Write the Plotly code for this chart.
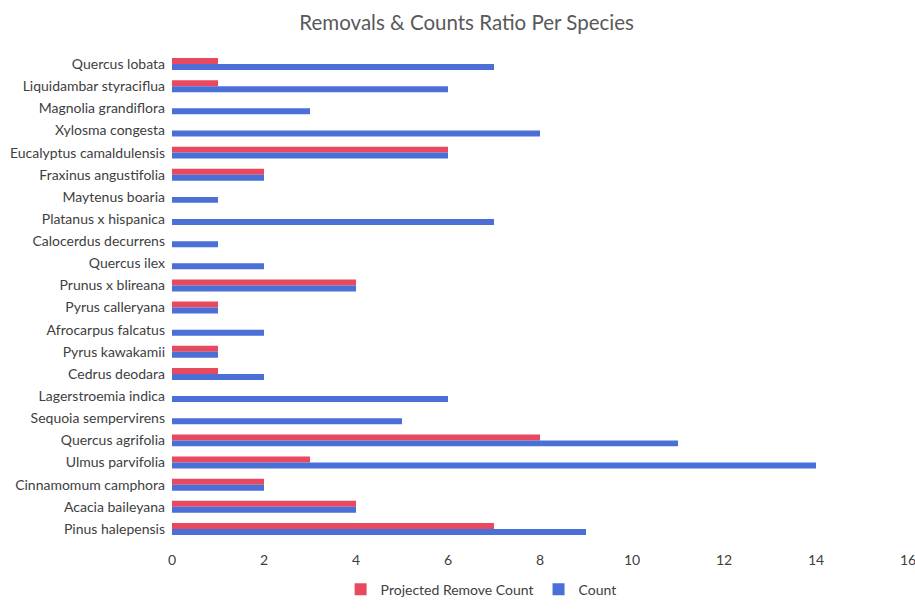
import plotly.graph_objects as go

# Species listed top to bottom as they appear on the chart
species = [
    "Quercus lobata", "Liquidambar styraciflua", "Magnolia grandiflora",
    "Xylosma congesta", "Eucalyptus camaldulensis", "Fraxinus angustifolia",
    "Maytenus boaria", "Platanus x hispanica", "Calocerdus decurrens",
    "Quercus ilex", "Prunus x blireana", "Pyrus calleryana",
    "Afrocarpus falcatus", "Pyrus kawakamii", "Cedrus deodara",
    "Lagerstroemia indica", "Sequoia sempervirens", "Quercus agrifolia",
    "Ulmus parvifolia", "Cinnamomum camphora", "Acacia baileyana",
    "Pinus halepensis",
]
remove_count = [1, 1, 0, 0, 6, 2, 0, 0, 0, 0, 4, 1, 0, 1, 1, 0, 0, 8, 3, 2, 4, 7]
count = [7, 6, 3, 8, 6, 2, 1, 7, 1, 2, 4, 1, 2, 1, 2, 6, 5, 11, 14, 2, 4, 9]
x_ticks = [0, 2, 4, 6, 8, 10, 12, 14, 16]

RED = "#E9495F"
BLUE = "#4A6FD7"
FONT = "Lato, 'Open Sans', sans-serif"

fig = go.Figure()
fig.add_trace(go.Bar(
    y=species, x=remove_count, orientation="h",
    name="Projected Remove Count", marker=dict(color=RED, line=dict(width=0)),
))
fig.add_trace(go.Bar(
    y=species, x=count, orientation="h",
    name="Count", marker=dict(color=BLUE, line=dict(width=0)),
))

fig.update_layout(
    width=915, height=613,
    margin=dict(l=172, r=7, t=53, b=69),
    paper_bgcolor="white", plot_bgcolor="white",
    barmode="group", bargap=0.46, bargroupgap=0.0,
    font=dict(family=FONT, size=14, color="#404040"),
    title=dict(
        text="Removals & Counts Ratio Per Species",
        x=0.51, xanchor="center", y=0.962, yanchor="middle",
        font=dict(family=FONT, size=20.5, color="#595959"),
    ),
    xaxis=dict(
        range=[0, 16], tickvals=x_ticks, showgrid=False, zeroline=False,
        showline=False, ticks="", ticklabelstandoff=10,
        ticklabeloverflow="allow", automargin=False,
        tickfont=dict(size=14, color="#404040"),
    ),
    yaxis=dict(
        autorange="reversed", showgrid=False, zeroline=False, showline=False,
        ticks="", ticklabelstandoff=6, automargin=False,
        tickfont=dict(size=14, color="#404040"),
    ),
    legend=dict(
        orientation="h", x=0.42, xanchor="center", y=-0.102, yanchor="middle",
        font=dict(size=14, color="#404040"), itemwidth=30,
    ),
)

fig.write_html("out.html")
